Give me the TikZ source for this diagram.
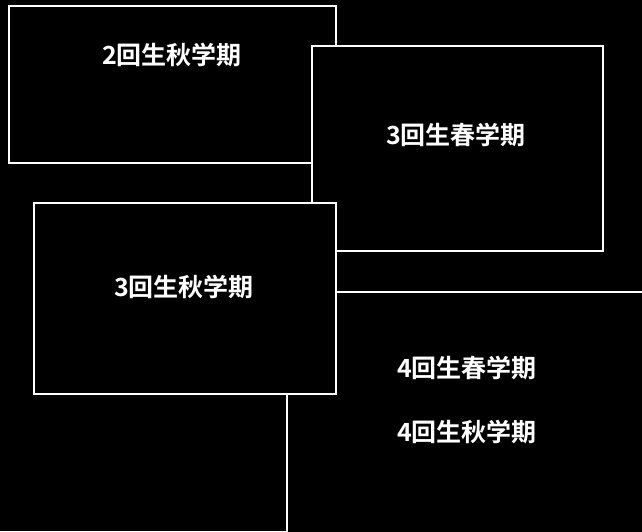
\documentclass[tikz,border=0pt]{standalone}
\usepackage{fontspec}
\newfontfamily\cjk{Noto Sans CJK JP}[BoldFont={Noto Sans CJK JP Bold}]
\begin{document}
\begin{tikzpicture}[x=1pt,y=-1pt,
  box/.style={draw=white, line width=2.4pt, fill=black, inner sep=0pt, outer sep=0pt, anchor=north west},
  lbl/.style={text=white, font=\cjk\bfseries\fontsize{25}{30}\selectfont, inner sep=0pt}]
\fill[black] (0,0) rectangle (642,531);
\useasboundingbox (0,0) rectangle (642,531);
\clip (0,0) rectangle (642,531);
\node[box, minimum width=420pt, minimum height=300pt] (d) at (287,292) {};
\node[box, minimum width=327pt, minimum height=157pt] (a) at (9,6) {};
\node[box, minimum width=291pt, minimum height=205pt] (b) at (312,46) {};
\node[box, minimum width=302pt, minimum height=191pt] (c) at (34,203) {};
\node[lbl] (ta) at (172,55) {2回生秋学期};
\node[lbl] (tb) at (456,135) {3回生春学期};
\node[lbl] (tc) at (184,287) {3回生秋学期};
\node[lbl] (td1) at (467,368) {4回生春学期};
\node[lbl] (td2) at (467,432) {4回生秋学期};
\end{tikzpicture}
\end{document}
